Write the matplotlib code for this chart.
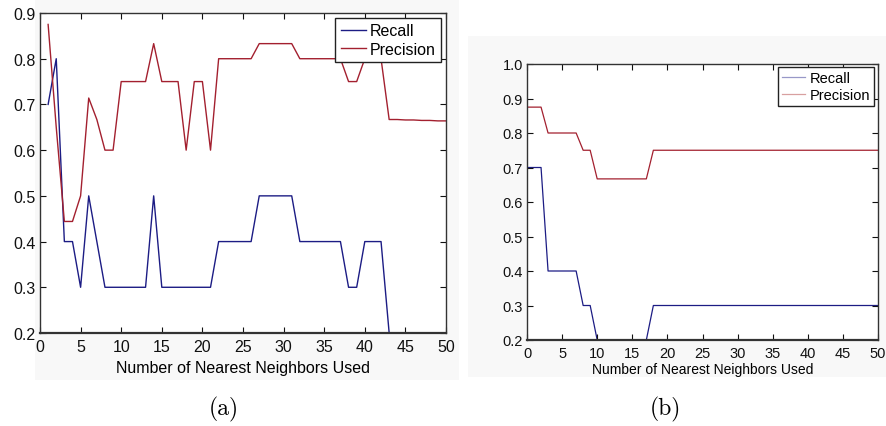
"""
recall / precision against number of nearest neighbors, two panels (a) and (b)
"""
import matplotlib.pyplot as plt
import numpy as np
from matplotlib.patches import Rectangle

plt.rcParams["font.family"] = ["Liberation Sans", "DejaVu Sans"]

# data, panel (a)
k_a = np.arange(1, 51)
recall_a = [0.70, 0.80, 0.40, 0.40, 0.30, 0.50, 0.40, 0.30, 0.30, 0.30,
            0.30, 0.30, 0.30, 0.50, 0.30, 0.30, 0.30, 0.30, 0.30, 0.30,
            0.30, 0.40, 0.40, 0.40, 0.40, 0.40, 0.50, 0.50, 0.50, 0.50,
            0.50, 0.40, 0.40, 0.40, 0.40, 0.40, 0.40, 0.30, 0.30, 0.40,
            0.40, 0.40, 0.20, 0.20, 0.20, 0.20, 0.20, 0.20, 0.20, 0.20]
precision_a = [0.875, 0.65, 0.444, 0.444, 0.50, 0.714, 0.667, 0.60, 0.60, 0.75,
               0.75, 0.75, 0.75, 0.833, 0.75, 0.75, 0.75, 0.60, 0.75, 0.75,
               0.60, 0.80, 0.80, 0.80, 0.80, 0.80, 0.833, 0.833, 0.833, 0.833,
               0.833, 0.80, 0.80, 0.80, 0.80, 0.80, 0.80, 0.75, 0.75, 0.80,
               0.80, 0.80, 0.667, 0.667, 0.666, 0.666, 0.665, 0.665, 0.664, 0.664]

# data, panel (b)
k_b = np.arange(0, 51)
recall_b = [0.70] * 3 + [0.40] * 5 + [0.30] * 2 + [0.20] * 8 + [0.30] * 33
precision_b = [0.875] * 3 + [0.80] * 5 + [0.75] * 2 + [0.667] * 8 + [0.75] * 33

xticks = np.arange(0, 51, 5)
blue = "#1c1c84"
red = "#a3202f"

fig = plt.figure(figsize=(8.87, 4.27), dpi=100)
fig.set_facecolor("white")

# faint grey backgrounds of the two pasted screenshots
W, H = 887, 427
for x0, y0, x1, y1 in [(35, 0, 459, 381), (468, 37, 887, 378)]:
    fig.patches.append(Rectangle((x0 / W, 1 - y1 / H), (x1 - x0) / W, (y1 - y0) / H,
                                 transform=fig.transFigure, facecolor="#f8f8f8",
                                 edgecolor="none", zorder=-10))

ax_a = fig.add_axes([40 / W, 1 - 334 / H, 406 / W, 320 / H])
ax_b = fig.add_axes([527 / W, 1 - 341 / H, 351 / W, 276 / H])

ax_a.plot(k_a, recall_a, color=blue, lw=1.0, label="Recall", zorder=1)
ax_a.plot(k_a, precision_a, color=red, lw=1.0, label="Precision", zorder=1)
ax_b.plot(k_b, recall_b, color=blue, lw=0.9, label="Recall", zorder=1)
ax_b.plot(k_b, precision_b, color=red, lw=0.9, label="Precision", zorder=1)

ax_a.set_ylim(0.2, 0.9)
ax_a.set_yticks(np.arange(0.2, 0.91, 0.1))
ax_b.set_ylim(0.2, 1.0)
ax_b.set_yticks(np.arange(0.2, 1.01, 0.1))

for ax, fs, lfs, lp in [(ax_a, 11.5, 11.5, 5), (ax_b, 10.5, 10, 2)]:
    ax.set_xlim(0, 50)
    ax.set_xticks(xticks)
    ax.set_facecolor("white")
    ax.tick_params(direction="in", top=True, right=True, length=4, width=0.8,
                   labelsize=fs, pad=3, colors="#111111")
    ax.tick_params(axis="x", pad=4)
    for s in ax.spines.values():
        s.set_linewidth(1.0)
        s.set_color("#333333")
        s.set_zorder(3)
    ax.spines["bottom"].set_linewidth(1.6)
    ax.set_xlabel("Number of Nearest Neighbors Used", fontsize=lfs, labelpad=lp)

ax_a.yaxis.set_major_formatter(plt.FormatStrFormatter("%.1f"))
ax_b.yaxis.set_major_formatter(plt.FormatStrFormatter("%.1f"))

leg_a = ax_a.legend(loc="upper right", bbox_to_anchor=(0.988, 0.985), fontsize=11.5,
                    fancybox=False, edgecolor="#222222", framealpha=1,
                    handlelength=1.6, handletextpad=0.2, borderpad=0.35,
                    labelspacing=0.2, borderaxespad=0)
leg_a.get_frame().set_linewidth(1.0)

leg_b = ax_b.legend(loc="upper right", bbox_to_anchor=(0.99, 0.99), fontsize=10.5,
                    fancybox=False, edgecolor="#222222", framealpha=1,
                    handlelength=1.6, handletextpad=0.3, borderpad=0.3,
                    labelspacing=0.2, borderaxespad=0)
leg_b.get_frame().set_linewidth(1.0)
for ln, c in zip(leg_b.get_lines(), ["#9898c8", "#d8a0a0"]):
    ln.set_color(c)

# sub-figure captions
fig.text(224 / W, 1 - 409 / H, "(a)", family="cmr10", fontsize=17, ha="center", va="center")
fig.text(665 / W, 1 - 409 / H, "(b)", family="cmr10", fontsize=17, ha="center", va="center")

plt.savefig("out.png", dpi=100, facecolor=fig.get_facecolor())
